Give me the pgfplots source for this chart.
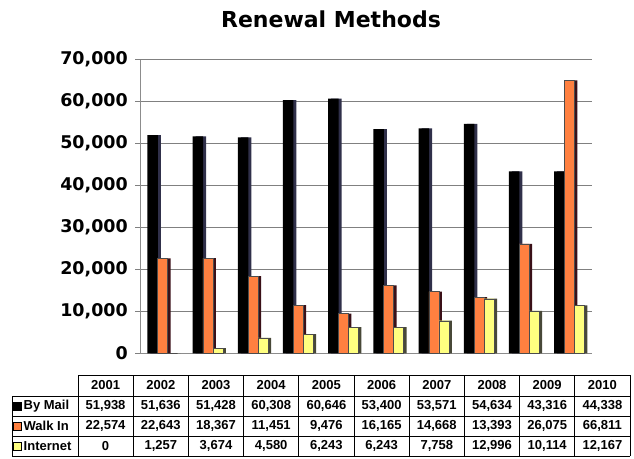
\documentclass[border=0pt]{standalone}
\usepackage{pgfplots}
\pgfplotsset{compat=1.18}
\usepackage{pgfplotstable}
\usepackage{fontspec}
\setmainfont{Liberation Sans}
\newfontfamily\headfont{DejaVu Sans}

\definecolor{walkc}{HTML}{FF8040}
\definecolor{netc}{HTML}{FFFF80}
\definecolor{mailside}{HTML}{30304A}
\definecolor{walkside}{HTML}{3A1018}
\definecolor{netside}{HTML}{484838}

% bar heights as drawn (2010 bars are drawn lower than the table says)
\pgfplotstableread{
x mail walk net
0 51938 22574 0
1 51636 22643 1257
2 51428 18367 3674
3 60308 11451 4580
4 60646 9476 6243
5 53400 16165 6243
6 53571 14668 7758
7 54634 13393 12996
8 43316 26075 10114
9 43300 65000 11400
}\renewals

\newcommand\tabf{\fontsize{13}{15}\selectfont\bfseries}

\begin{document}
\begin{tikzpicture}
\path[use as bounding box] (0,0) rectangle (634pt,458pt);

\node[anchor=base, font=\headfont\bfseries\fontsize{22}{24}\selectfont]
  at (331pt,430.7pt) {Renewal Methods};

\begin{axis}[
    at={(140pt,104.7pt)}, anchor=south west,
    scale only axis, width=452pt, height=294pt,
    xmin=-0.5, xmax=9.5, ymin=0, ymax=70000,
    xtick=\empty,
    ytick={0,10000,...,60000},
    extra y ticks={70000},
    extra y tick style={grid style={draw=black!30, line width=0.9pt}},
    ymajorgrids,
    major grid style={draw=black!50, line width=0.9pt},
    axis x line*=bottom, axis y line*=left,
    axis line style={draw=black!45, line width=1pt, -},
    tick align=outside, major tick length=5pt,
    tick style={draw=black!50, line width=0.8pt},
    scaled y ticks=false,
    /pgf/number format/.cd, fixed, 1000 sep={,}, assume math mode=true,
    /pgfplots/.cd,
    yticklabel style={font=\headfont\bfseries\fontsize{17.5}{18}\selectfont,
      inner sep=0pt, xshift=-7pt},
    clip=false,
  ]
  % black series
  \addplot[ybar, bar width=10.5pt, bar shift=-7pt, draw=none, fill=mailside]
    table[x=x, y=mail] {\renewals};
  \addplot[ybar, bar width=10.5pt, bar shift=-10pt, draw=none, fill=black]
    table[x=x, y=mail] {\renewals};
  % orange series
  \addplot[ybar, bar width=10pt, bar shift=3pt, draw=none, fill=walkside]
    table[x=x, y=walk] {\renewals};
  \addplot[ybar, bar width=10pt, bar shift=0pt, draw=black!70, line width=0.4pt, fill=walkc]
    table[x=x, y=walk] {\renewals};
  % yellow series
  \addplot[ybar, bar width=10pt, bar shift=13pt, draw=none, fill=netside]
    table[x=x, y=net] {\renewals};
  \addplot[ybar, bar width=10pt, bar shift=10pt, draw=black!70, line width=0.4pt, fill=netc]
    table[x=x, y=net] {\renewals};
\end{axis}

% data table
\draw[line width=0.8pt] (78pt,83pt) -- (630pt,83pt);
\foreach \yy in {62,42,22,2}
  \draw[line width=0.8pt] (12pt,\yy pt) -- (630pt,\yy pt);
\draw[line width=0.8pt] (12pt,62pt) -- (12pt,2pt);
\foreach \i in {0,...,10}
  \draw[line width=0.8pt] ({78pt+55.2pt*\i},83pt) -- ({78pt+55.2pt*\i},2pt);

\foreach \y [count=\i from 0] in {2001,...,2010}
  \node[font=\tabf] at ({78pt+55.2pt*(\i+0.5)},72.5pt) {\y};
\foreach \v [count=\i from 0] in {{51,938},{51,636},{51,428},{60,308},{60,646},{53,400},{53,571},{54,634},{43,316},{44,338}}
  \node[font=\tabf] at ({78pt+55.2pt*(\i+0.5)},52pt) {\v};
\foreach \v [count=\i from 0] in {{22,574},{22,643},{18,367},{11,451},{9,476},{16,165},{14,668},{13,393},{26,075},{66,811}}
  \node[font=\tabf] at ({78pt+55.2pt*(\i+0.5)},32pt) {\v};
\foreach \v [count=\i from 0] in {0,{1,257},{3,674},{4,580},{6,243},{6,243},{7,758},{12,996},{10,114},{12,167}}
  \node[font=\tabf] at ({78pt+55.2pt*(\i+0.5)},12pt) {\v};

\draw[fill=black, line width=0.5pt] (13.5pt,48pt) rectangle ++(8pt,8pt);
\draw[fill=walkc, line width=0.5pt] (13.5pt,28pt) rectangle ++(8pt,8pt);
\draw[fill=netc, line width=0.5pt] (13.5pt,8pt) rectangle ++(8pt,8pt);
\node[font=\tabf, anchor=west, inner sep=0pt] at (23.5pt,52pt) {By Mail};
\node[font=\tabf, anchor=west, inner sep=0pt] at (23.5pt,32pt) {Walk In};
\node[font=\tabf, anchor=west, inner sep=0pt] at (23.5pt,12pt) {Internet};
\end{tikzpicture}
\end{document}
